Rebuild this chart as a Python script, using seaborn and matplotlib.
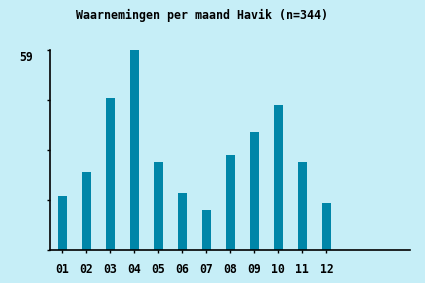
import matplotlib
matplotlib.use("Agg")
import matplotlib.pyplot as plt
import matplotlib.transforms as mtransforms
import seaborn as sns
import pandas as pd

months = ["01", "02", "03", "04", "05", "06", "07", "08", "09", "10", "11", "12"]
counts = [16, 23, 45, 59, 26, 17, 12, 28, 35, 43, 26, 14]
title = "Waarnemingen per maand Havik (n=344)"
ymax = 59

BG = "#C6EEF7"
BAR = "#0086A8"

sns.set_style("white")
plt.rcParams["font.family"] = ["DejaVu Sans Mono"]

fig = plt.figure(figsize=(4.25, 2.83), dpi=100, facecolor=BG)
ax = fig.add_axes([50 / 425, (283 - 250.3) / 283, 360.5 / 425, 200 / 283])
ax.set_facecolor(BG)

df = pd.DataFrame({"month": months, "count": counts})
sns.barplot(data=df, x="month", y="count", color=BAR, saturation=1,
            width=0.375, ax=ax, linewidth=0)

ax.set_xlim(-0.5, 14.5)
ax.set_ylim(0, ymax)
ax.set_xlabel("")
ax.set_ylabel("")

for s in ["top", "right"]:
    ax.spines[s].set_visible(False)
for s in ["left", "bottom"]:
    ax.spines[s].set_color("black")
    ax.spines[s].set_linewidth(1.2)

ax.set_yticks([0, ymax / 4, ymax / 2, 3 * ymax / 4, ymax])
ax.set_yticklabels(["", "", "", "", str(ymax)], fontweight="bold", fontsize=8.3)
ax.tick_params(axis="y", direction="out", length=2.5, width=1, pad=10, colors="black", left=True)
ax.tick_params(axis="x", direction="out", length=2.5, width=1, pad=6.5, colors="black", bottom=True)
ax.set_xticks(range(len(months)))
ax.set_xticklabels(months, fontweight="bold", fontsize=8.3)

offset = mtransforms.ScaledTranslation(0, -6 / 100, fig.dpi_scale_trans)
for lbl in ax.get_yticklabels():
    lbl.set_transform(lbl.get_transform() + offset)

fig.text(202.5 / 425, 1 - 15.5 / 283, title, ha="center", va="center",
         fontsize=8.4, fontweight="bold", color="black")

fig.savefig("out.png", dpi=100, facecolor=BG)
